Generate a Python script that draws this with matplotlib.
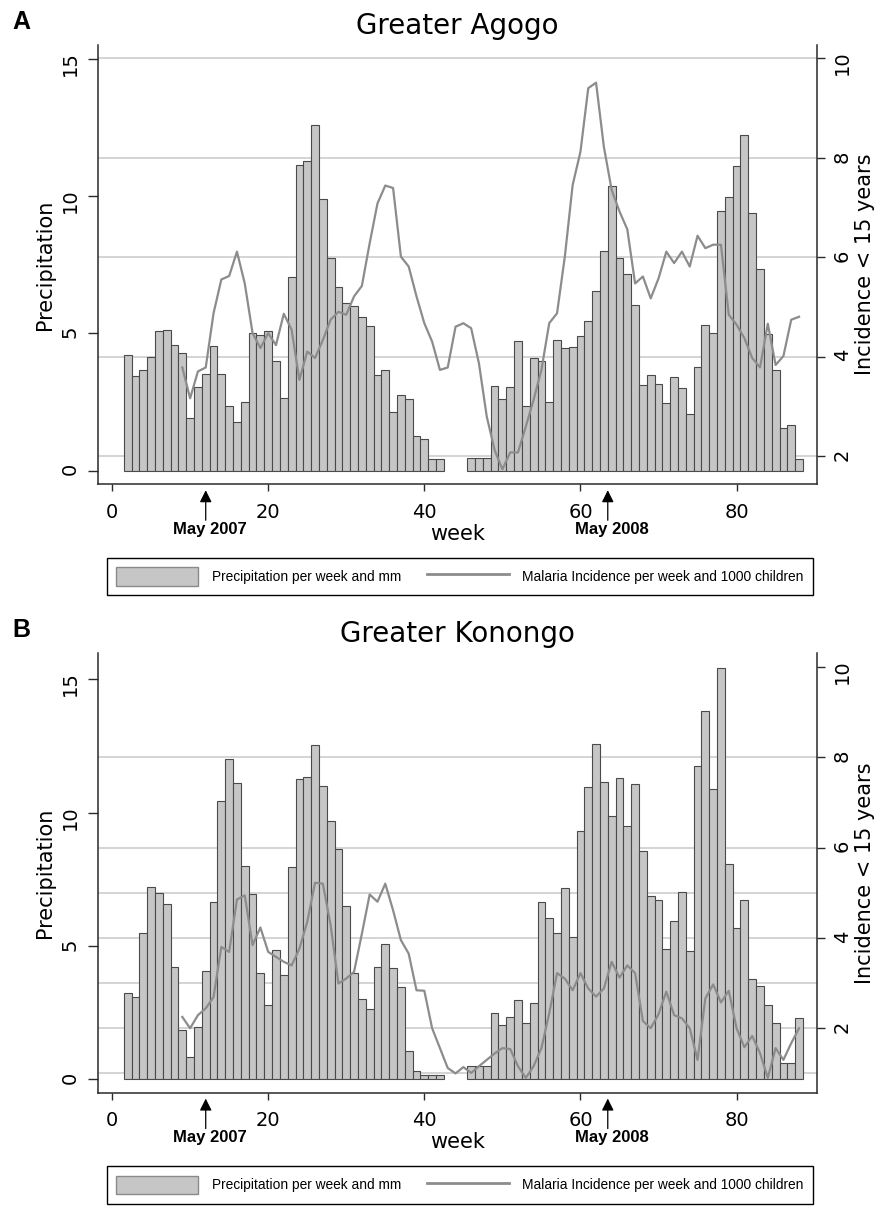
import matplotlib
matplotlib.use('Agg')
from matplotlib import pyplot as plt
import matplotlib.transforms as mtransforms
from matplotlib.patches import Patch
from matplotlib.lines import Line2D

plt.rcParams['font.family'] = ['DejaVu Sans']

# weeks with precipitation data (no data for weeks 43-45)
rain_weeks = list(range(2, 43)) + list(range(46, 89))
# weeks with incidence data
inc_weeks = list(range(9, 89))

agogo_rain = [4.2, 3.45, 3.65, 4.15, 5.1, 5.12, 4.58, 4.3, 1.9, 3.06,
              3.53, 4.54, 3.53, 2.35, 1.78, 2.51, 5.02, 4.93, 5.1, 4.0,
              2.63, 7.04, 11.13, 11.29, 12.6, 9.88, 7.74, 6.7, 6.12, 6.0,
              5.58, 5.28, 3.47, 3.67, 2.15, 2.77, 2.62, 1.26, 1.14, 0.42,
              0.42,
              0.45, 0.45, 0.45, 3.08, 2.61, 3.06, 4.73, 2.35, 4.09, 4.0,
              2.51, 4.76, 4.48, 4.5, 4.9, 5.45, 6.55, 7.99, 10.36, 7.74,
              7.15, 6.03, 3.12, 3.47, 3.17, 2.45, 3.41, 3.02, 2.06, 3.79,
              5.32, 5.02, 9.47, 9.95, 11.09, 12.22, 9.39, 7.35, 4.98, 3.67,
              1.57, 1.67, 0.41]

agogo_inc = [3.78, 3.16, 3.70, 3.78, 4.87, 5.55, 5.62, 6.11, 5.47, 4.47,
             4.17, 4.47, 4.23, 4.86, 4.54, 3.53, 4.10, 3.97, 4.33, 4.74,
             4.90, 4.84, 5.21, 5.42, 6.28, 7.08, 7.44, 7.39, 6.01, 5.81,
             5.21, 4.67, 4.30, 3.73, 3.78, 4.60, 4.67, 4.57, 3.86, 2.79,
             2.12, 1.73, 2.07, 2.07, 2.59, 3.13, 3.73, 4.67, 4.87, 6.01,
             7.45, 8.12, 9.40, 9.51, 8.22, 7.35, 6.92, 6.56, 5.47, 5.61,
             5.17, 5.57, 6.11, 5.88, 6.11, 5.81, 6.43, 6.18, 6.25, 6.25,
             4.84, 4.64, 4.37, 3.97, 3.78, 4.66, 3.83, 4.01, 4.74, 4.80]

konongo_rain = [3.25, 3.09, 5.47, 7.23, 6.98, 6.59, 4.21, 1.84, 0.83, 1.97,
                4.08, 6.65, 10.45, 12.01, 11.09, 7.98, 6.96, 3.98, 2.78, 4.84,
                3.90, 7.95, 11.25, 11.34, 12.52, 11.0, 9.68, 8.63, 6.51, 3.98,
                3.0, 2.63, 4.2, 5.06, 4.19, 3.46, 1.07, 0.33, 0.17, 0.17,
                0.17,
                0.52, 0.52, 0.52, 2.5, 2.03, 2.36, 2.98, 2.11, 2.86, 6.65,
                6.05, 5.47, 7.16, 5.33, 9.3, 10.97, 12.56, 11.14, 9.89, 11.29,
                9.5, 11.08, 8.56, 6.88, 6.74, 4.89, 5.94, 7.01, 4.83, 11.75,
                13.81, 10.9, 15.4, 8.08, 5.69, 6.74, 3.75, 3.52, 2.78, 2.13,
                0.6, 0.6, 2.32]

konongo_inc = [2.25, 2.0, 2.29, 2.44, 2.69, 3.80, 3.69, 4.85, 4.94, 3.84,
               4.23, 3.69, 3.58, 3.47, 3.39, 3.76, 4.35, 5.22, 5.20, 4.28,
               2.99, 3.10, 3.25, 4.09, 4.96, 4.80, 5.20, 4.61, 3.95, 3.65,
               2.84, 2.83, 2.0, 1.56, 1.12, 1.0, 1.14, 1.01, 1.16, 1.30,
               1.44, 1.56, 1.54, 1.16, 0.9, 1.16, 1.56, 2.33, 3.22, 3.10,
               2.84, 3.22, 2.88, 2.70, 2.88, 3.47, 3.12, 3.39, 3.22, 2.16,
               2.0, 2.31, 2.81, 2.29, 2.22, 2.0, 1.30, 2.66, 2.97, 2.57,
               2.83, 2.0, 1.58, 1.83, 1.45, 0.90, 1.56, 1.30, 1.67, 2.0]

x_ticks = [0, 20, 40, 60, 80]
mm_ticks = [0, 5, 10, 15]
inc_ticks = [2, 4, 6, 8, 10]
agogo_grid = [2, 4, 6, 8, 10]
konongo_grid = [1, 2, 3, 4, 5, 6, 8]
may_weeks = [12, 63.5]
may_labels = ['May 2007', 'May 2008']
legend_labels = ['Precipitation per week and mm',
                 'Malaria Incidence per week and 1000 children']

BAR_FC = '#c6c6c6'
BAR_EC = '#4a4a4a'
LINE_C = '#8c8c8c'
GRID_C = '#c9c9c9'
AX_C = '#2a2a2a'

AX_H = 439.3  # axes height in pixels, used for offsets below the axis


def draw_panel(ax, letter, title, rain, inc, grid_vals, ylim_mm, ylim_inc):
    ax2 = ax.twinx()

    # grid lines in incidence units, behind the bars
    tr = mtransforms.blended_transform_factory(ax.transAxes, ax2.transData)
    for g in grid_vals:
        ax.plot([0, 1], [g, g], transform=tr, color=GRID_C, lw=1.1, zorder=0.5)

    ax.bar(rain_weeks, rain, width=1.0, color=BAR_FC, edgecolor=BAR_EC,
           linewidth=0.8, zorder=2)
    ax2.plot(inc_weeks, inc, color=LINE_C, lw=1.6, zorder=3)

    ax.set_xlim(-1.8, 90.3)
    ax.set_ylim(*ylim_mm)
    ax2.set_ylim(*ylim_inc)
    ax.set_xticks(x_ticks)
    ax.set_yticks(mm_ticks)
    ax2.set_yticks(inc_ticks)

    for a in (ax, ax2):
        a.spines['top'].set_visible(False)
        for s in a.spines.values():
            s.set_color(AX_C)
            s.set_linewidth(1.1)
    ax2.spines['left'].set_visible(False)
    ax2.spines['bottom'].set_visible(False)
    ax.spines['right'].set_visible(False)

    ax.tick_params(axis='x', length=5, width=1, pad=8.5, labelsize=14, color=AX_C)
    ax.tick_params(axis='y', length=7, width=1, pad=6, labelsize=14,
                   labelrotation=90, color=AX_C)
    ax2.tick_params(axis='y', length=6, width=1, pad=5.5, labelsize=14,
                    labelrotation=90, color=AX_C)

    ax.set_ylabel('Precipitation', fontsize=15)
    ax.yaxis.set_label_coords(-0.0737, 0.5)
    ax.yaxis.label.set_va('center')
    ax2.set_ylabel('Incidence < 15 years', fontsize=15, rotation=90)
    ax2.yaxis.set_label_coords(1.0668, 0.5)
    ax2.yaxis.label.set_va('center')
    ax.set_xlabel('week', fontsize=15)
    ax.xaxis.set_label_coords(0.5, -0.113)
    ax.xaxis.label.set_va('center')

    ax.set_title(title, fontsize=20, pad=8)
    ax.text(-0.1196, 1.08, letter, transform=ax.transAxes, ha='left', va='top',
            fontsize=18, fontweight='bold', family='Liberation Sans')

    # May markers under the axis
    tx = ax.get_xaxis_transform()
    for wk, lab in zip(may_weeks, may_labels):
        ax.annotate('', xy=(wk, -6 / AX_H), xycoords=tx,
                    xytext=(wk, -36 / AX_H), textcoords=tx,
                    arrowprops=dict(arrowstyle='-|>,head_length=0.6,head_width=0.3',
                                    color='black', lw=0.9, mutation_scale=12,
                                    shrinkA=0, shrinkB=0),
                    annotation_clip=False)
        ax.text(wk + 0.5, -45 / AX_H, lab, transform=tx, ha='center', va='center',
                fontsize=12, fontweight='bold', family='Liberation Sans')

    handles = [Patch(facecolor=BAR_FC, edgecolor='#8a8a8a', lw=1.0),
               Line2D([], [], color=LINE_C, lw=2)]
    leg = ax.legend(handles, legend_labels, loc='upper left',
                    bbox_to_anchor=(0.012, -0.1678, 0.9825, 0), mode='expand',
                    ncol=2, frameon=True, fancybox=False, framealpha=1,
                    edgecolor='black', prop={'family': 'Liberation Sans', 'size': 9.9},
                    handlelength=6.0, handleheight=1.7, handletextpad=0.95,
                    borderpad=0.68, borderaxespad=0, columnspacing=2.2)
    leg.get_frame().set_linewidth(1.0)
    return ax2


fig = plt.figure(figsize=(8.75, 12.07), dpi=100)
ax_a = fig.add_axes([0.1120, 0.5988, 0.8217, 0.3640])
ax_b = fig.add_axes([0.1120, 0.0948, 0.8217, 0.3640])

draw_panel(ax_a, 'A', 'Greater Agogo', agogo_rain, agogo_inc, agogo_grid,
           (-0.495, 15.5), (1.43, 10.27))
draw_panel(ax_b, 'B', 'Greater Konongo', konongo_rain, konongo_inc, konongo_grid,
           (-0.49, 15.97), (0.576, 10.30))

fig.savefig('out.png', dpi=100)
